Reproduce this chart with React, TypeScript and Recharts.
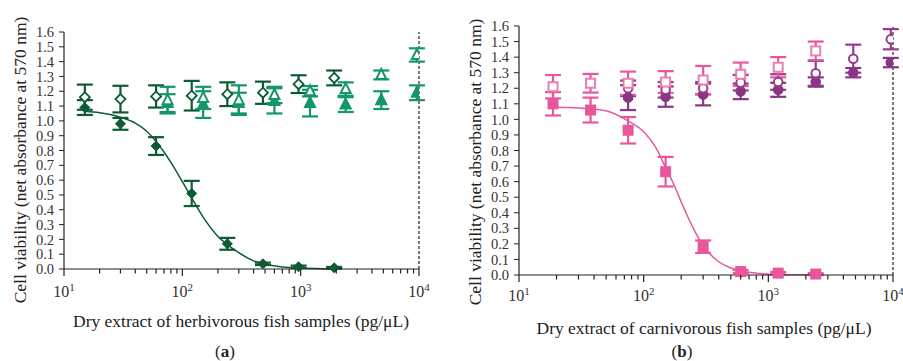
import {
  ComposedChart,
  Scatter,
  Line,
  XAxis,
  YAxis,
  ErrorBar,
  ReferenceLine,
} from "recharts";

const FONT = '"Liberation Serif", "Times New Roman", serif';

// panel (a): herbivorous fish
const herbDoses = [15, 30, 60, 120, 240, 480, 960, 1920];
const herbOpenDiamond = [1.16, 1.147, 1.165, 1.17, 1.18, 1.19, 1.248, 1.29];
const herbOpenDiamondErr = [0.085, 0.09, 0.075, 0.1, 0.08, 0.075, 0.06, 0.05];
const herbFilledDiamond = [1.09, 0.98, 0.83, 0.51, 0.17, 0.035, 0.015, 0.008];
const herbFilledDiamondErr = [0.05, 0.04, 0.06, 0.085, 0.04, 0.008, 0.008, 0.006];

const herbTriDoses = [75, 150, 300, 600, 1200, 2400, 4800, 9600];
const herbOpenTri = [1.14, 1.155, 1.14, 1.175, 1.2, 1.215, 1.31, 1.445];
const herbOpenTriErr = [0.09, 0.075, 0.1, 0.055, 0.035, 0.045, 0.03, 0.045];
const herbFilledTri = [1.12, 1.11, 1.12, 1.135, 1.12, 1.11, 1.14, 1.19];
const herbFilledTriErr = [0.06, 0.09, 0.07, 0.085, 0.09, 0.05, 0.06, 0.05];

const herbCurveX = [15, 20, 30, 40, 50, 60, 70, 80, 100, 120, 150, 200, 240, 300, 400, 500, 700, 1000, 1500, 2000];
const herbCurveY = [1.065, 1.055, 1.025, 0.985, 0.93, 0.86, 0.79, 0.72, 0.59, 0.48, 0.35, 0.22, 0.165, 0.11, 0.055, 0.032, 0.014, 0.006, 0.002, 0.001];

// panel (b): carnivorous fish
const carnDoses = [18.75, 37.5, 75, 150, 300, 600, 1200, 2400];
const carnOpenSquare = [1.21, 1.232, 1.232, 1.24, 1.253, 1.29, 1.335, 1.44];
const carnOpenSquareErr = [0.075, 0.06, 0.075, 0.07, 0.09, 0.075, 0.065, 0.06];
const carnFilledSquare = [1.1, 1.06, 0.93, 0.664, 0.182, 0.022, 0.012, 0.006];
const carnFilledSquareErr = [0.075, 0.08, 0.085, 0.095, 0.04, 0.01, 0.008, 0.006];

const purpleDoses = [75, 150, 300, 600, 1200, 2400, 4800, 9600];
const purpleOpenCircle = [1.2, 1.19, 1.2, 1.236, 1.24, 1.296, 1.39, 1.515];
const purpleOpenCircleErr = [0.05, 0.05, 0.04, 0.05, 0.05, 0.08, 0.09, 0.065];
const purpleFilledCircle = [1.14, 1.146, 1.16, 1.18, 1.19, 1.24, 1.3, 1.365];
const purpleFilledCircleErr = [0.08, 0.065, 0.07, 0.05, 0.045, 0.03, 0.03, 0.03];

const carnCurveX = [18.75, 25, 37.5, 50, 75, 100, 125, 150, 175, 200, 250, 300, 400, 500, 600, 800, 1200, 2400];
const carnCurveY = [1.078, 1.077, 1.068, 1.055, 0.99, 0.92, 0.82, 0.69, 0.58, 0.47, 0.3, 0.19, 0.085, 0.045, 0.027, 0.012, 0.004, 0.001];

// axes
const yTicks = [0, 0.1, 0.2, 0.3, 0.4, 0.5, 0.6, 0.7, 0.8, 0.9, 1, 1.1, 1.2, 1.3, 1.4, 1.5, 1.6];
const xMajor = [10, 100, 1000, 10000];
const xExponents = ["1", "2", "3", "4"];
const xMinor = [20, 30, 40, 50, 60, 70, 80, 90, 200, 300, 400, 500, 600, 700, 800, 900, 2000, 3000, 4000, 5000, 6000, 7000, 8000, 9000];

const DARK_GREEN = "#0c5b34";
const MID_GREEN = "#13966a";
const PINK = "#e8579d";
const LIGHT_PINK = "#e97fb3";
const PURPLE = "#983a8d";
const DARK_PURPLE = "#8a3585";

const pts = (xs: number[], ys: number[], errs?: number[]) =>
  xs.map((x, i) => ({ x, y: ys[i], err: errs ? errs[i] : 0 }));

type Kind = "diamond" | "triangle" | "square" | "circle";

function marker(kind: Kind, color: string, filled: boolean) {
  return (props: any) => {
    const { cx, cy } = props;
    if (cx == null || cy == null) return <g />;
    const fill = filled ? color : "#fff";
    const sw = 2;
    if (kind === "diamond") {
      const r = 5;
      return (
        <path
          d={`M${cx},${cy - r}L${cx + r},${cy}L${cx},${cy + r}L${cx - r},${cy}Z`}
          fill={fill}
          stroke={color}
          strokeWidth={filled ? 1 : 1.8}
        />
      );
    }
    if (kind === "triangle") {
      const r = 5;
      return (
        <path
          d={`M${cx},${cy - r - 1}L${cx + r},${cy + r - 1}L${cx - r},${cy + r - 1}Z`}
          fill={fill}
          stroke={color}
          strokeWidth={sw}
        />
      );
    }
    if (kind === "square") {
      const r = 4.5;
      return (
        <rect x={cx - r} y={cy - r} width={2 * r} height={2 * r} fill={fill} stroke={color} strokeWidth={sw} />
      );
    }
    return <circle cx={cx} cy={cy} r={4.3} fill={fill} stroke={color} strokeWidth={sw} />;
  };
}

function LogTick(props: any) {
  const { x, y, payload, labelDy } = props;
  const idx = xMajor.indexOf(payload.value);
  const major = idx >= 0;
  return (
    <g>
      <line x1={x} y1={y} x2={x} y2={y + (major ? 7 : 4.5)} stroke="#222" strokeWidth={1.2} />
      {major && (
        <text x={x} y={y + labelDy} textAnchor="middle" fontFamily={FONT} fontSize={16} fill="#333">
          <tspan>10</tspan>
          <tspan dy={-6} fontSize={11}>
            {xExponents[idx]}
          </tspan>
        </text>
      )}
    </g>
  );
}

type SeriesDef = {
  data: { x: number; y: number; err: number }[];
  kind: Kind;
  color: string;
  filled: boolean;
  barColor: string;
};

function Panel({
  width,
  height,
  top,
  right,
  labelDy,
  curve,
  curveColor,
  series,
}: {
  width: number;
  height: number;
  top: number;
  right: number;
  labelDy: number;
  curve: { x: number; y: number }[];
  curveColor: string;
  series: SeriesDef[];
}) {
  return (
    <ComposedChart width={width} height={height} margin={{ top, right, bottom: 0, left: 0 }}>
      <XAxis
        type="number"
        dataKey="x"
        scale="log"
        domain={[10, 10000]}
        allowDataOverflow
        ticks={[...xMajor, ...xMinor]}
        interval={0}
        tickSize={0}
        tickMargin={0}
        tickLine={false}
        tick={<LogTick labelDy={labelDy} />}
        axisLine={{ stroke: "#222", strokeWidth: 1.2 }}
        height={40}
      />
      <YAxis
        type="number"
        dataKey="y"
        domain={[0, 1.6]}
        ticks={yTicks}
        interval={0}
        width={64}
        tickSize={5}
        tickMargin={5}
        tickFormatter={(v: number) => v.toFixed(1)}
        tick={{ fontFamily: FONT, fontSize: 14.5, fill: "#333" }}
        tickLine={{ stroke: "#222" }}
        axisLine={{ stroke: "#222", strokeWidth: 1.2 }}
      />
      <ReferenceLine x={10000} stroke="#222" strokeDasharray="3 2" strokeWidth={1.2} />
      <Line
        data={curve}
        dataKey="y"
        type="monotone"
        stroke={curveColor}
        strokeWidth={1.5}
        dot={false}
        activeDot={false}
        isAnimationActive={false}
      />
      {series.map((s, i) => (
        <Scatter
          key={i}
          data={s.data}
          dataKey="y"
          shape={marker(s.kind, s.color, s.filled)}
          isAnimationActive={false}
        >
          <ErrorBar
            dataKey="err"
            direction="y"
            width={8}
            stroke={s.barColor}
            strokeWidth={2.2}
            isAnimationActive={false}
          />
        </Scatter>
      ))}
    </ComposedChart>
  );
}

const abs = (left: number, top: number, extra: any = {}) => ({
  position: "absolute" as const,
  left,
  top,
  fontFamily: FONT,
  color: "#222",
  whiteSpace: "nowrap" as const,
  ...extra,
});

export default function App() {
  const herbSeries: SeriesDef[] = [
    { data: pts(herbDoses, herbOpenDiamond, herbOpenDiamondErr), kind: "diamond", color: DARK_GREEN, filled: false, barColor: DARK_GREEN },
    { data: pts(herbTriDoses, herbFilledTri, herbFilledTriErr), kind: "triangle", color: MID_GREEN, filled: true, barColor: MID_GREEN },
    { data: pts(herbTriDoses, herbOpenTri, herbOpenTriErr), kind: "triangle", color: MID_GREEN, filled: false, barColor: MID_GREEN },
    { data: pts(herbDoses, herbFilledDiamond, herbFilledDiamondErr), kind: "diamond", color: DARK_GREEN, filled: true, barColor: DARK_GREEN },
  ];
  const carnSeries: SeriesDef[] = [
    { data: pts(purpleDoses, purpleFilledCircle, purpleFilledCircleErr), kind: "circle", color: DARK_PURPLE, filled: true, barColor: DARK_PURPLE },
    { data: pts(purpleDoses, purpleOpenCircle, purpleOpenCircleErr), kind: "circle", color: PURPLE, filled: false, barColor: PURPLE },
    { data: pts(carnDoses, carnOpenSquare, carnOpenSquareErr), kind: "square", color: LIGHT_PINK, filled: false, barColor: PINK },
    { data: pts(carnDoses, carnFilledSquare, carnFilledSquareErr), kind: "square", color: PINK, filled: true, barColor: PINK },
  ];

  return (
    <div style={{ position: "absolute", left: 0, top: 0, width: 903, height: 361, background: "#fff", overflow: "hidden" }}>
      <div style={{ position: "absolute", left: 0, top: 0 }}>
        <Panel
          width={440}
          height={309}
          top={32}
          right={21}
          labelDy={28}
          curve={pts(herbCurveX, herbCurveY)}
          curveColor={DARK_GREEN}
          series={herbSeries}
        />
      </div>
      <div style={{ position: "absolute", left: 455, top: 0 }}>
        <Panel
          width={448}
          height={315}
          top={26}
          right={10}
          labelDy={26}
          curve={pts(carnCurveX, carnCurveY)}
          curveColor={PINK}
          series={carnSeries}
        />
      </div>

      <div style={abs(20, 160, { fontSize: 17.5, transform: "translate(-50%, -50%) rotate(-90deg)" })}>
        Cell viability (net absorbance at 570 nm)
      </div>
      <div style={abs(475, 162, { fontSize: 17.5, transform: "translate(-50%, -50%) rotate(-90deg)" })}>
        Cell viability (net absorbance at 570 nm)
      </div>

      <div style={abs(241, 321, { fontSize: 17.5, transform: "translate(-50%, -50%)" })}>
        Dry extract of herbivorous fish samples (pg/μL)
      </div>
      <div style={abs(704, 328, { fontSize: 17.5, transform: "translate(-50%, -50%)" })}>
        Dry extract of carnivorous fish samples (pg/μL)
      </div>

      <div style={abs(225, 352, { fontSize: 17, transform: "translate(-50%, -50%)" })}>
        (<b>a</b>)
      </div>
      <div style={abs(682, 352, { fontSize: 17, transform: "translate(-50%, -50%)" })}>
        (<b>b</b>)
      </div>
    </div>
  );
}
